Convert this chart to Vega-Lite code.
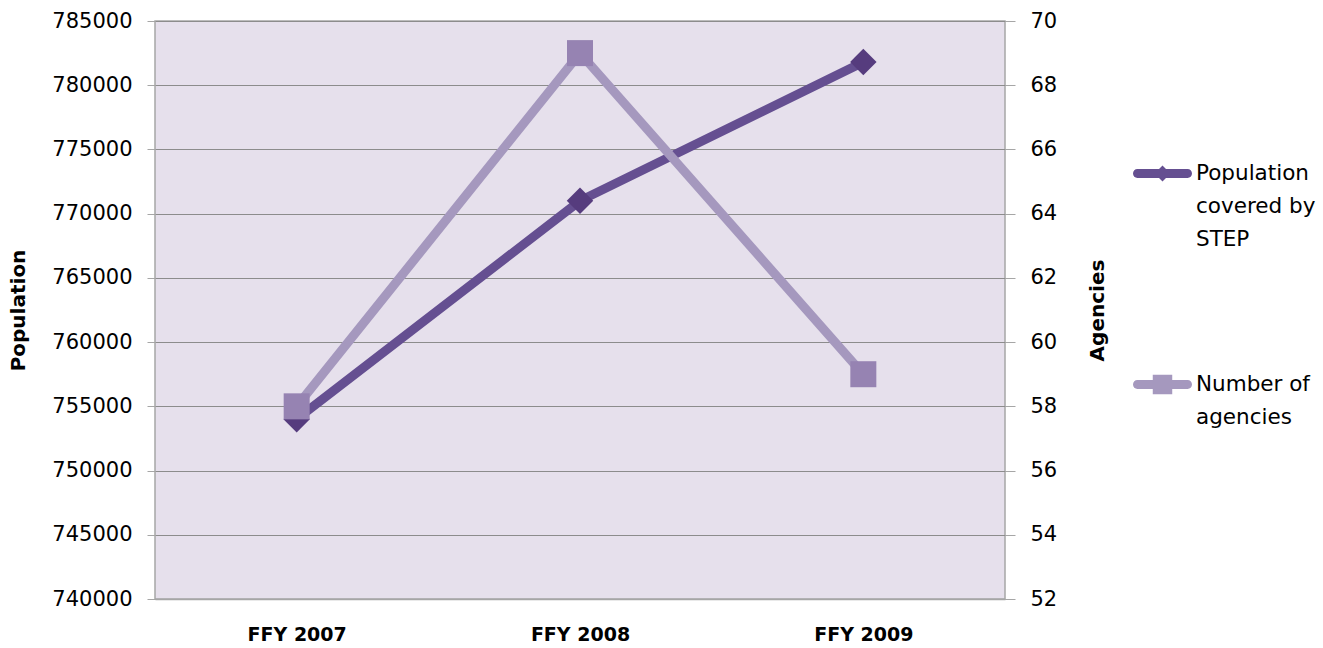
{
  "$schema": "https://vega.github.io/schema/vega-lite/v6.json",
  "width": 850,
  "height": 578,
  "autosize": {"type": "none"},
  "padding": {"left": 155, "top": 21, "right": 318, "bottom": 49},
  "background": "#FFFFFF",
  "config": {
    "font": "DejaVu Sans",
    "view": {"fill": "#E6E0EC", "stroke": "#A6A6A6", "strokeWidth": 1.5},
    "axis": {
      "labelFontSize": 21,
      "labelColor": "#000000",
      "titleColor": "#000000",
      "titleFontSize": 20,
      "titleFontWeight": "bold",
      "domainColor": "#A6A6A6",
      "tickColor": "#A6A6A6",
      "gridColor": "#8C8C8C",
      "labelFont": "DejaVu Sans",
      "titleFont": "DejaVu Sans"
    }
  },
  "data": {
    "values": [
      {"year": "FFY 2007", "population": 754000, "agencies": 58},
      {"year": "FFY 2008", "population": 771000, "agencies": 69},
      {"year": "FFY 2009", "population": 781800, "agencies": 59}
    ]
  },
  "encoding": {
    "x": {
      "field": "year",
      "type": "ordinal",
      "scale": {"type": "point", "padding": 0.5},
      "axis": {
        "title": null,
        "labelAngle": 0,
        "labelFontWeight": "bold",
        "labelFontSize": 19,
        "ticks": false,
        "labelPadding": 26,
        "domain": true,
        "domainWidth": 1.5
      }
    }
  },
  "layer": [
    {
      "encoding": {
        "y": {
          "field": "population",
          "type": "quantitative",
          "scale": {"domain": [740000, 785000], "zero": false, "nice": false},
          "axis": {
            "orient": "left",
            "title": "Population",
            "values": [740000, 745000, 750000, 755000, 760000, 765000, 770000, 775000, 780000, 785000],
            "format": "d",
            "grid": true,
            "gridWidth": 1.2,
            "tickSize": 8,
            "labelPadding": 15,
            "titlePadding": 23,
            "domain": false
          }
        }
      },
      "layer": [
        {
          "mark": {"type": "line", "strokeWidth": 9, "strokeJoin": "round", "strokeCap": "round"},
          "encoding": {
            "color": {
              "datum": "Population covered by STEP",
              "scale": {
                "domain": ["Population covered by STEP", "Number of agencies"],
                "range": ["#654F91", "#A598BE"]
              },
              "legend": {
                "title": null,
                "orient": "none",
                "legendX": 978,
                "legendY": 123,
                "symbolSize": 3481,
                "labelFontSize": 21.5,
                "labelFont": "DejaVu Sans",
                "labelColor": "#000000",
                "labelOffset": 4,
                "rowPadding": 105,
                "symbolStrokeWidth": 0,
                "symbolOpacity": 1,
                "labelExpr": "datum.value == 'Population covered by STEP' ? ['Population', 'covered by', 'STEP'] : ['Number of', 'agencies']",
                "encode": {
                  "symbols": {
                    "update": {
                      "shape": {"signal": "datum.value == 'Population covered by STEP' ? 'M-0.85,-0.15H0.85A0.15,0.15 0 0 1 0.85,0.15H-0.85A0.15,0.15 0 0 1 -0.85,-0.15Z M0,-0.27L0.27,0L0,0.27L-0.27,0Z' : 'M-0.85,-0.15H0.85A0.15,0.15 0 0 1 0.85,0.15H-0.85A0.15,0.15 0 0 1 -0.85,-0.15Z M-0.33,-0.33H0.33V0.33H-0.33Z'"},
                      "fill": {"signal": "datum.value == 'Population covered by STEP' ? '#654F91' : '#A598BE'"},
                      "stroke": {"value": "transparent"}
                    }
                  },
                  "labels": {"update": {"lineHeight": {"value": 33}}}
                }
              }
            }
          }
        },
        {
          "mark": {"type": "point", "shape": "diamond", "size": 700, "filled": true, "fill": "#563C7E", "opacity": 1}
        }
      ]
    },
    {
      "encoding": {
        "y": {
          "field": "agencies",
          "type": "quantitative",
          "scale": {"domain": [52, 70], "zero": false, "nice": false},
          "axis": {
            "orient": "right",
            "title": "Agencies",
            "titleAngle": 270,
            "titleBaseline": "top",
            "values": [52, 54, 56, 58, 60, 62, 64, 66, 68, 70],
            "grid": false,
            "tickSize": 10,
            "labelPadding": 15,
            "titlePadding": 31,
            "domain": false
          }
        }
      },
      "layer": [
        {
          "mark": {"type": "line", "strokeWidth": 9, "strokeJoin": "round", "strokeCap": "round"},
          "encoding": {"color": {"datum": "Number of agencies"}}
        },
        {
          "mark": {"type": "point", "shape": "square", "size": 676, "filled": true, "fill": "#9683B2", "opacity": 1}
        }
      ]
    }
  ],
  "resolve": {"scale": {"y": "independent"}}
}
